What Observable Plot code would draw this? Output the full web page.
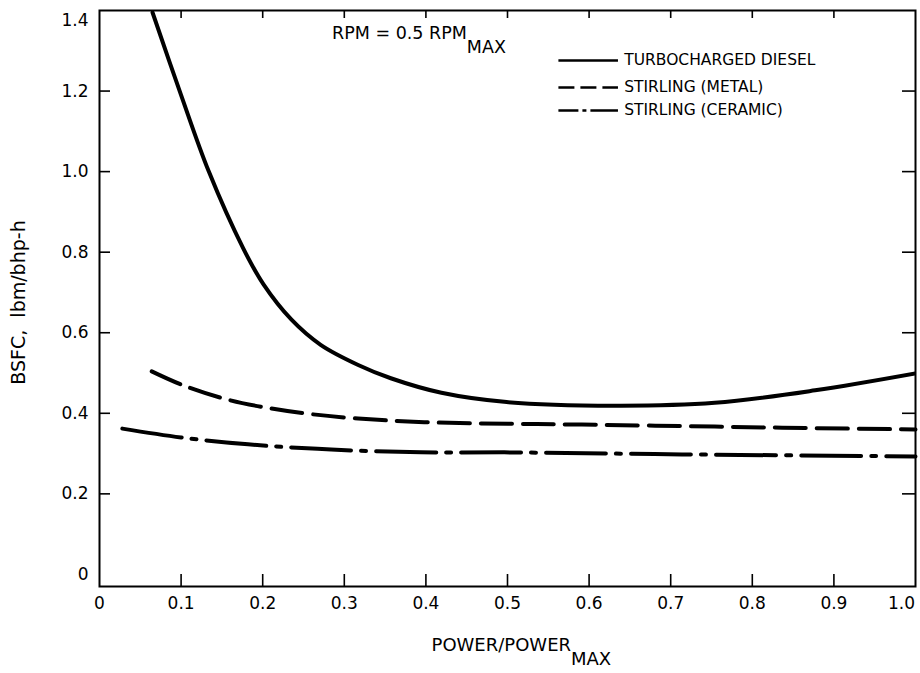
<!DOCTYPE html>
<html><head><meta charset="utf-8">
<script src="https://cdn.jsdelivr.net/npm/d3@7"></script>
<script src="https://cdn.jsdelivr.net/npm/@observablehq/plot@0.6"></script>
<style>html,body{margin:0;padding:0;background:#fff;}</style>
</head><body><div id="chart"></div>
<script>
// Tick values and labels
const xTicks = [0, 0.1, 0.2, 0.3, 0.4, 0.5, 0.6, 0.7, 0.8, 0.9, 1.0];
const xTickLabels = ["0", "0.1", "0.2", "0.3", "0.4", "0.5", "0.6", "0.7", "0.8", "0.9", "1.0"];
const yTicks = [0, 0.2, 0.4, 0.6, 0.8, 1.0, 1.2, 1.4];
const yTickLabels = ["0", "0.2", "0.4", "0.6", "0.8", "1.0", "1.2", "1.4"];

// Series: turbocharged diesel
const dieselX = [0.065, 0.100, 0.134, 0.176, 0.201, 0.235, 0.271, 0.317, 0.357, 0.419, 0.499, 0.631, 0.754, 0.877, 1.0];
const dieselY = [1.395, 1.19, 1.0, 0.81, 0.72, 0.633, 0.570, 0.520, 0.487, 0.451, 0.428, 0.419, 0.426, 0.457, 0.499];
// Series: Stirling (metal)
const metalX = [0.064, 0.103, 0.157, 0.210, 0.259, 0.317, 0.398, 0.501, 0.591, 0.754, 0.877, 1.0];
const metalY = [0.504, 0.469, 0.434, 0.412, 0.398, 0.387, 0.378, 0.374, 0.372, 0.367, 0.363, 0.360];
// Series: Stirling (ceramic)
const ceramicX = [0.028, 0.100, 0.182, 0.284, 0.394, 0.496, 0.714, 1.0];
const ceramicY = [0.362, 0.340, 0.323, 0.310, 0.303, 0.303, 0.298, 0.293];

// Legend / annotation text
const legendLabels = ["TURBOCHARGED DIESEL", "STIRLING (METAL)", "STIRLING (CERAMIC)"];
const noteText = "RPM = 0.5 RPM|MAX";
const xLabel = "POWER/POWER|MAX";
const yLabel = "BSFC,  lbm/bhp-h";

const toRows = (xs, ys) => xs.map((x, i) => ({x, y: ys[i]}));
const diesel = toRows(dieselX, dieselY);
const metal = toRows(metalX, metalY);
const ceramic = toRows(ceramicX, ceramicY);

const W = 920, H = 673, mT = 10, mB = 87, mL = 99, mR = 5;
const plotW = W - mL - mR, plotH = H - mT - mB;
const inner = xTicks.slice(1, -1);
const innerY = yTicks.slice(1, -1);
const legY = [1.276, 1.209, 1.152];
const legX1 = 0.563, legX2 = 0.636, legTx = 0.643;

const chart = Plot.plot({
  width: W, height: H,
  marginTop: mT, marginBottom: mB, marginLeft: mL, marginRight: mR,
  x: {domain: [0, 1.0], axis: null},
  y: {domain: [-0.03, 1.4], axis: null},
  style: {fontFamily: "DejaVu Sans", background: "#fff", color: "#000"},
  marks: [
    Plot.frame({stroke: "#000", strokeWidth: 2}),
    // inward ticks
    Plot.ruleX(inner, {x: d => d, insetTop: plotH - 12, strokeWidth: 1.6}),
    Plot.ruleX(inner, {x: d => d, insetBottom: plotH - 8, strokeWidth: 1.6}),
    Plot.ruleY(innerY, {y: d => d, insetRight: plotW - 11, strokeWidth: 1.6}),
    Plot.ruleY(innerY, {y: d => d, insetLeft: plotW - 13, strokeWidth: 1.6}),
    // tick labels
    Plot.text(xTicks.slice(0, -1), {x: d => d, frameAnchor: "bottom", dy: 22, text: (d, i) => xTickLabels[i], fontSize: 17}),
    Plot.text(xTicks.slice(-1), {x: d => d, frameAnchor: "bottom", dy: 22, dx: -14, text: d => xTickLabels[xTicks.indexOf(d)], fontSize: 17}),
    Plot.text(yTicks.filter(d => d < 1.3), {y: d => d, frameAnchor: "left", dx: -11, textAnchor: "end", text: d => yTickLabels[yTicks.indexOf(d)], fontSize: 17}),
    Plot.text(yTicks.filter(d => d > 1.3), {y: d => d, frameAnchor: "left", dx: -11, dy: 10, textAnchor: "end", text: d => yTickLabels[yTicks.indexOf(d)], fontSize: 17}),
    // axis titles
    Plot.text([xLabel], {x: 0.517, frameAnchor: "bottom", dy: 64, text: d => d, fontSize: 18}),
    Plot.text([yLabel], {y: 0.675, frameAnchor: "left", dx: -81, rotate: -90, textAnchor: "middle", text: d => d, fontSize: 19}),
    // curves
    Plot.line(diesel, {x: "x", y: "y", stroke: "#000", strokeWidth: 4, curve: "catmull-rom", clip: true}),
    Plot.line(metal, {x: "x", y: "y", stroke: "#000", strokeWidth: 4, strokeDasharray: "31,11", curve: "catmull-rom"}),
    Plot.line(ceramic, {x: "x", y: "y", stroke: "#000", strokeWidth: 4, strokeDasharray: "60,10,5,10", curve: "catmull-rom"}),
    // annotation
    Plot.text([noteText], {x: 0.285, y: 1.343, textAnchor: "start", text: d => d, fontSize: 17.5}),
    // legend
    Plot.ruleY([legY[0]], {x1: legX1, x2: legX2, stroke: "#000", strokeWidth: 2.5}),
    Plot.ruleY([legY[1]], {x1: legX1, x2: legX2, stroke: "#000", strokeWidth: 2.5, strokeDasharray: "16,6"}),
    Plot.ruleY([legY[2]], {x1: legX1, x2: legX2, stroke: "#000", strokeWidth: 2.5, strokeDasharray: "20,4,4,4,40"}),
    Plot.text(legendLabels, {x: legTx, y: (d, i) => legY[i], textAnchor: "start", text: d => d, fontSize: 15.5})
  ]
});

// subscripts
d3.select(chart).selectAll("text").each(function () {
  const s = this.textContent;
  if (s.includes("|")) {
    const [a, b] = s.split("|");
    const t = d3.select(this);
    t.text(null);
    t.append("tspan").text(a);
    t.append("tspan").attr("dy", "0.8em").text(b);
  }
});

document.getElementById("chart").appendChild(chart);
</script>
</body></html>
